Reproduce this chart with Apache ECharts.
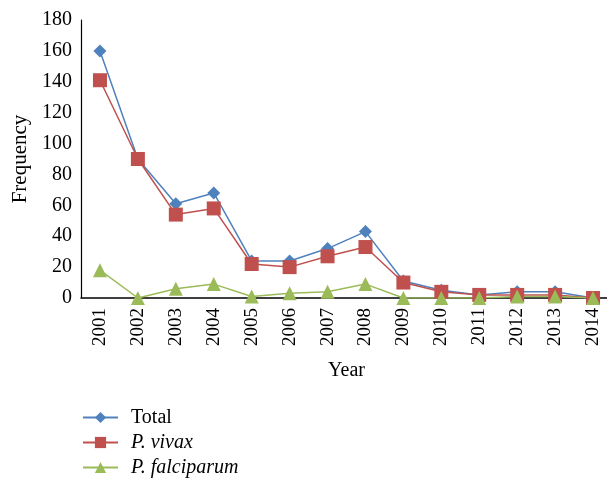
<!DOCTYPE html>
<html>
<head>
<meta charset="utf-8">
<script src="https://cdn.jsdelivr.net/npm/echarts@6/dist/echarts.min.js"></script>
<style>html,body{margin:0;padding:0;background:#fff}#c{width:607px;height:480px}</style>
</head>
<body>
<div id="c"></div>
<script>
const years = ['2001','2002','2003','2004','2005','2006','2007','2008','2009','2010','2011','2012','2013','2014'];
const total = [160, 90, 61, 68, 24, 24, 32, 43, 11, 5, 2, 4, 4, 0];
const vivax = [141, 90, 54, 58, 22, 20, 27, 33, 10, 4, 2, 2, 2, 0];
const falciparum = [18, 0, 6, 9, 1, 3, 4, 9, 0, 0, 0, 1, 1, 0];
const yTicks = { min: 0, max: 180, interval: 20 };

const FONT = 'Liberation Serif';
const chart = echarts.init(document.getElementById('c'), null, { renderer: 'canvas' });
chart.setOption({
  animation: false,
  backgroundColor: '#fff',
  textStyle: { fontFamily: FONT },
  grid: { left: 81, top: 20, width: 531, height: 278, containLabel: false, outerBoundsMode: 'none' },
  xAxis: {
    type: 'category',
    data: years,
    boundaryGap: true,
    name: 'Year',
    nameLocation: 'middle',
    nameGap: 63,
    nameTextStyle: { fontFamily: FONT, fontSize: 20, color: '#000' },
    axisLine: { lineStyle: { color: '#000', width: 1.5 } },
    axisTick: { show: false },
    axisLabel: { rotate: 90, fontFamily: FONT, fontSize: 19, color: '#000', margin: 10 },
    splitLine: { show: false }
  },
  yAxis: {
    type: 'value',
    min: yTicks.min, max: yTicks.max, interval: yTicks.interval,
    name: 'Frequency',
    nameLocation: 'middle',
    nameGap: 50,
    nameTextStyle: { fontFamily: FONT, fontSize: 21, color: '#000' },
    axisLine: { show: true, lineStyle: { color: '#000', width: 1.2 } },
    axisTick: { show: false },
    axisLabel: { fontFamily: FONT, fontSize: 20, color: '#000', margin: 9 },
    splitLine: { show: false }
  },
  legend: {
    orient: 'vertical',
    left: 82,
    top: 407,
    height: 73,
    padding: 0,
    itemWidth: 35,
    itemHeight: 14,
    itemGap: 4,
    data: ['Total', 'P. vivax', 'P. falciparum'],
    textStyle: { fontFamily: FONT, fontSize: 20, color: '#000', lineHeight: 21, padding: [0, 0, 0, 8],
      rich: { i: { fontFamily: FONT, fontSize: 20, fontStyle: 'italic', color: '#000', lineHeight: 21 } } },
    formatter: function (n) { return n === 'Total' ? n : '{i|' + n + '}'; }
  },
  series: [
    { name: 'Total', type: 'line', data: total, symbol: 'diamond', symbolSize: 13,
      itemStyle: { color: '#4F81BD' }, lineStyle: { color: '#4F81BD', width: 1.5 } },
    { name: 'P. vivax', type: 'line', data: vivax, symbol: 'rect', symbolSize: 14,
      itemStyle: { color: '#C0504D' }, lineStyle: { color: '#C0504D', width: 1.5 } },
    { name: 'P. falciparum', type: 'line', data: falciparum, symbol: 'triangle', symbolSize: 14,
      itemStyle: { color: '#9BBB59' }, lineStyle: { color: '#9BBB59', width: 1.5 } }
  ]
});
</script>
</body>
</html>
